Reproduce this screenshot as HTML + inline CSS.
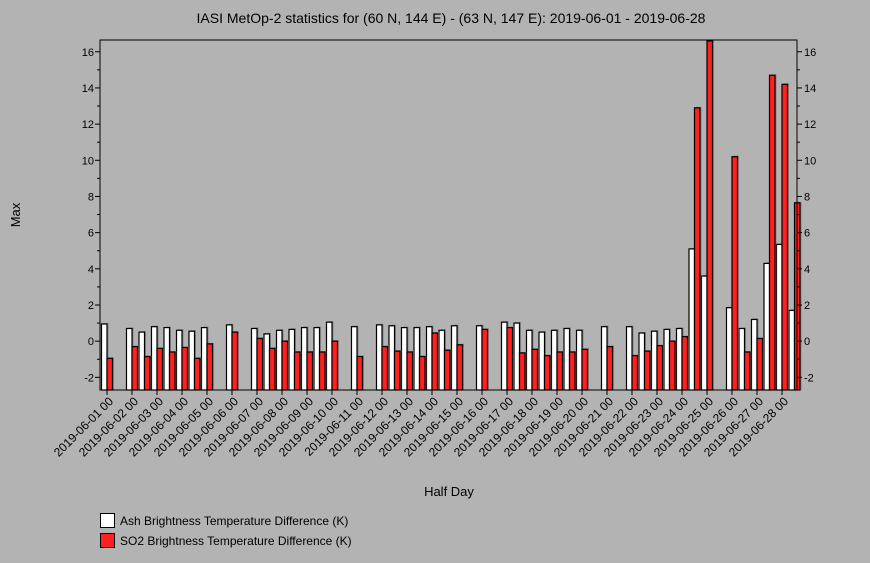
<!DOCTYPE html>
<html><head><meta charset="utf-8"><style>
body{margin:0;background:#b3b3b3;}
svg{display:block;font-family:"Liberation Sans",sans-serif;}
</style></head><body>
<svg id="chart" width="870" height="563" viewBox="0 0 870 563">
<rect width="870" height="563" fill="#b3b3b3"/>
<text x="451" y="23" font-size="14" text-anchor="middle" fill="#000">IASI MetOp-2 statistics for (60 N, 144 E) - (63 N, 147 E): 2019-06-01 - 2019-06-28</text>
<text x="20" y="215" font-size="13" text-anchor="middle" transform="rotate(-90 20 215)">Max</text>
<text x="449" y="496" font-size="13" text-anchor="middle">Half Day</text>
<g id="bars"></g>
<g id="axes"></g>
<g>
<rect x="100.5" y="513.5" width="14" height="14" fill="#fff" stroke="#000"/>
<text x="120" y="525" font-size="12">Ash Brightness Temperature Difference (K)</text>
<rect x="100.5" y="533.5" width="14" height="14" fill="#ff2020" stroke="#000"/>
<text x="120" y="545" font-size="12">SO2 Brightness Temperature Difference (K)</text>
</g>
</svg>
<script>
const dayLabels=["2019-06-01 00","2019-06-02 00","2019-06-03 00","2019-06-04 00","2019-06-05 00","2019-06-06 00","2019-06-07 00","2019-06-08 00","2019-06-09 00","2019-06-10 00","2019-06-11 00","2019-06-12 00","2019-06-13 00","2019-06-14 00","2019-06-15 00","2019-06-16 00","2019-06-17 00","2019-06-18 00","2019-06-19 00","2019-06-20 00","2019-06-21 00","2019-06-22 00","2019-06-23 00","2019-06-24 00","2019-06-25 00","2019-06-26 00","2019-06-27 00","2019-06-28 00"];
const yTicks=[-2,0,2,4,6,8,10,12,14,16];
// half-day slots, null = no data
const ashValues=[0.95,null,0.7,0.5,0.8,0.75,0.6,0.55,0.75,null,0.9,null,0.7,0.4,0.6,0.65,0.75,0.75,1.05,null,0.8,null,0.9,0.85,0.75,0.75,0.8,0.6,0.85,null,0.85,null,1.05,1.0,0.6,0.5,0.6,0.7,0.6,null,0.8,null,0.8,0.45,0.55,0.65,0.7,5.1,3.6,null,1.85,0.7,1.2,4.3,5.35,1.7];
const so2Values=[-0.95,null,-0.3,-0.85,-0.4,-0.6,-0.35,-0.95,-0.15,null,0.5,null,0.15,-0.4,0.0,-0.6,-0.6,-0.6,0.0,null,-0.85,null,-0.3,-0.55,-0.6,-0.85,0.45,-0.5,-0.2,null,0.65,null,0.75,-0.65,-0.45,-0.8,-0.6,-0.6,-0.45,null,-0.3,null,-0.8,-0.55,-0.25,0.0,0.25,12.9,16.6,null,10.2,-0.6,0.15,14.7,14.2,7.65];
const NS="http://www.w3.org/2000/svg";
const L=100,R=797,T=40,B=390,yMin=-2.7,yMax=16.65;
const y=v=>B-(v-yMin)/(yMax-yMin)*(B-T);
const x=i=>107+i*12.5;
const BW=5.5;
function mk(tag,attrs,parent){const e=document.createElementNS(NS,tag);for(const k in attrs)e.setAttribute(k,attrs[k]);parent.appendChild(e);return e;}
const bars=document.getElementById('bars'),axes=document.getElementById('axes');
function bar(i,v,color,left,name){
 if(v===null)return;
 const x0=left?x(i)-BW:x(i);
 const top=Math.max(y(v),T);
 const s=mk('rect',{x:x0+1.5,y:top-1,width:BW,height:B-top+1,fill:'#666','fill-opacity':0.6},bars);
 
 
 const r=mk('rect',{x:x0,y:top,width:BW,height:B-top,fill:color,stroke:'#000','stroke-width':1.2},bars);
 
 
}
ashValues.forEach((v,i)=>bar(i,v,'#fff',true,'bar-ash-'+i));
so2Values.forEach((v,i)=>bar(i,v,'#ff2020',false,'bar-so2-'+i));
const frame=mk('rect',{x:L,y:T,width:R-L,height:B-T,fill:'none',stroke:'#000','stroke-width':1},axes);


for(let v=-2;v<=16;v+=0.5){
 const major=yTicks.includes(v);
 const len=major?5:(Number.isInteger(v)?3:0);
 if(!len)continue;
 const tl=mk('line',{x1:L-len,x2:L,y1:y(v),y2:y(v),stroke:'#000'},axes);
 
 
 const tr=mk('line',{x1:R,x2:R+len,y1:y(v),y2:y(v),stroke:'#000'},axes);
 
 
}
yTicks.forEach(v=>{
 const a=mk('text',{x:L-6,y:y(v)+4,'font-size':11,'text-anchor':'end'},axes);a.textContent=v;
 
 
 const b=mk('text',{x:R+7,y:y(v)+4,'font-size':11},axes);b.textContent=v;
 
 
});
dayLabels.forEach((lab,d)=>{
 const xx=x(d*2);
 const t=mk('line',{x1:xx,x2:xx,y1:B,y2:B+5,stroke:'#000'},axes);
 
 
 const tx=mk('text',{x:xx+7,y:B+12,'font-size':12,'text-anchor':'end',transform:`rotate(-45 ${xx+7} ${B+12})`},axes);
 tx.textContent=lab;
 
 
});
</script>
</body></html>
